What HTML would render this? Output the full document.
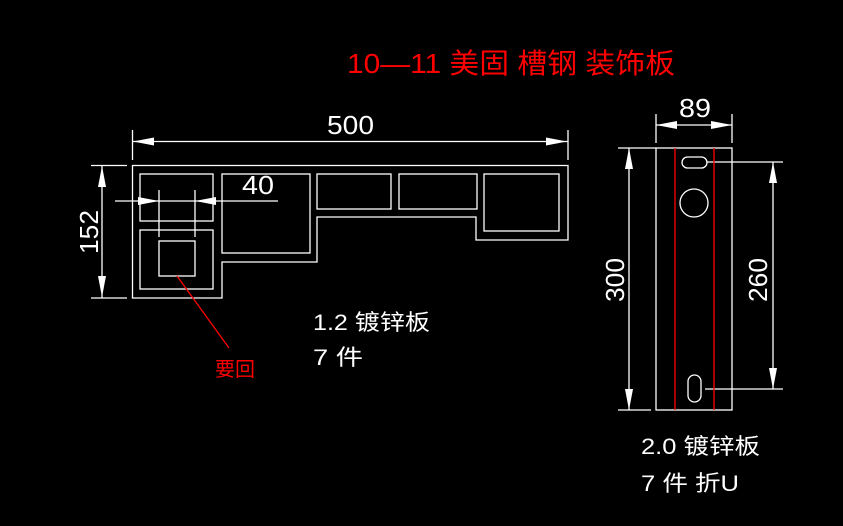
<!DOCTYPE html>
<html><head><meta charset="utf-8"><style>
html,body{margin:0;padding:0;background:#000;}
svg{display:block}
text{font-family:"Liberation Sans","Noto Sans CJK SC",sans-serif;}
</style></head><body>
<svg width="843" height="526" viewBox="0 0 843 526" xmlns="http://www.w3.org/2000/svg">
<rect width="843" height="526" fill="#000"/>
<g fill="none" stroke="#fff" stroke-width="1.3">
<path d="M132.5 165.5 H568 V240 H476 V217 H317 V262 H222 V298 H132.5 Z"/>
<rect x="140" y="174" width="73" height="47"/>
<rect x="140" y="230" width="73" height="59"/>
<rect x="159" y="241" width="36" height="35"/>
<rect x="222" y="174" width="88" height="79"/>
<rect x="317" y="174" width="74" height="35"/>
<rect x="399" y="174" width="78" height="35"/>
<rect x="484" y="174" width="75" height="57"/>
<line x1="132.5" y1="130" x2="132.5" y2="160"/>
<line x1="568" y1="130" x2="568" y2="160"/>
<line x1="132.5" y1="141.5" x2="568" y2="141.5"/>
<line x1="115" y1="201" x2="278" y2="201"/>
<line x1="159" y1="190" x2="159" y2="237"/>
<line x1="195" y1="190" x2="195" y2="237"/>
<line x1="91" y1="165.5" x2="127" y2="165.5"/>
<line x1="91" y1="298" x2="127" y2="298"/>
<line x1="102" y1="165.5" x2="102" y2="298"/>
<rect x="656" y="148" width="76" height="262"/>
<rect x="682" y="157" width="25" height="11" rx="5.5"/>
<circle cx="694" cy="203" r="14"/>
<rect x="688" y="375" width="13" height="27" rx="6.5"/>
<line x1="656" y1="114" x2="656" y2="143"/>
<line x1="732" y1="114" x2="732" y2="143"/>
<line x1="656" y1="125" x2="732" y2="125"/>
<line x1="618" y1="148" x2="656" y2="148"/>
<line x1="618" y1="410" x2="651" y2="410"/>
<line x1="629" y1="148" x2="629" y2="410"/>
<line x1="707" y1="162" x2="783" y2="162"/>
<line x1="705" y1="389" x2="783" y2="389"/>
<line x1="773" y1="162" x2="773" y2="389"/>
</g>
<g stroke="#f00" stroke-width="1.3">
<line x1="675" y1="148" x2="675" y2="410"/>
<line x1="714" y1="148" x2="714" y2="410"/>
<line x1="177" y1="276" x2="229" y2="348"/>
</g>
<g fill="#fff">
<polygon points="133,141.5 154,137.5 154,145.5"/>
<polygon points="567,141.5 546,137.5 546,145.5"/>
<polygon points="159,201 138,197 138,205"/>
<polygon points="195,201 216,197 216,205"/>
<polygon points="102,166 98,187 106,187"/>
<polygon points="102,297 98,276 106,276"/>
<polygon points="656,125 677,121 677,129"/>
<polygon points="732,125 711,121 711,129"/>
<polygon points="629,148 625,169 633,169"/>
<polygon points="629,410 625,389 633,389"/>
<polygon points="773,162 769,183 777,183"/>
<polygon points="773,389 769,368 777,368"/>
</g>
<g fill="#fff" font-size="26">
<text x="327" y="134" textLength="47" lengthAdjust="spacingAndGlyphs">500</text>
<text x="242" y="194" textLength="32" lengthAdjust="spacingAndGlyphs">40</text>
<text x="679" y="117" textLength="32" lengthAdjust="spacingAndGlyphs">89</text>
<text transform="translate(98,232) rotate(-90)" text-anchor="middle" textLength="44" lengthAdjust="spacingAndGlyphs">152</text>
<text transform="translate(624,280) rotate(-90)" text-anchor="middle" textLength="44" lengthAdjust="spacingAndGlyphs">300</text>
<text transform="translate(767,280) rotate(-90)" text-anchor="middle" textLength="44" lengthAdjust="spacingAndGlyphs">260</text>
<text x="313" y="330" font-size="22" textLength="117" lengthAdjust="spacingAndGlyphs">1.2 镀锌板</text>
<text x="313" y="365" font-size="22" textLength="50" lengthAdjust="spacingAndGlyphs">7 件</text>
<text x="641" y="454" font-size="22" textLength="119" lengthAdjust="spacingAndGlyphs">2.0 镀锌板</text>
<text x="641" y="491" font-size="22" textLength="98" lengthAdjust="spacingAndGlyphs">7 件 折U</text>
</g>
<g fill="#f00">
<text x="347" y="73" font-size="28" textLength="328" lengthAdjust="spacingAndGlyphs">10—11 美固 槽钢 装饰板</text>
<text x="215" y="376" font-size="20" textLength="40" lengthAdjust="spacingAndGlyphs">要回</text>
</g>
</svg>
</body></html>
